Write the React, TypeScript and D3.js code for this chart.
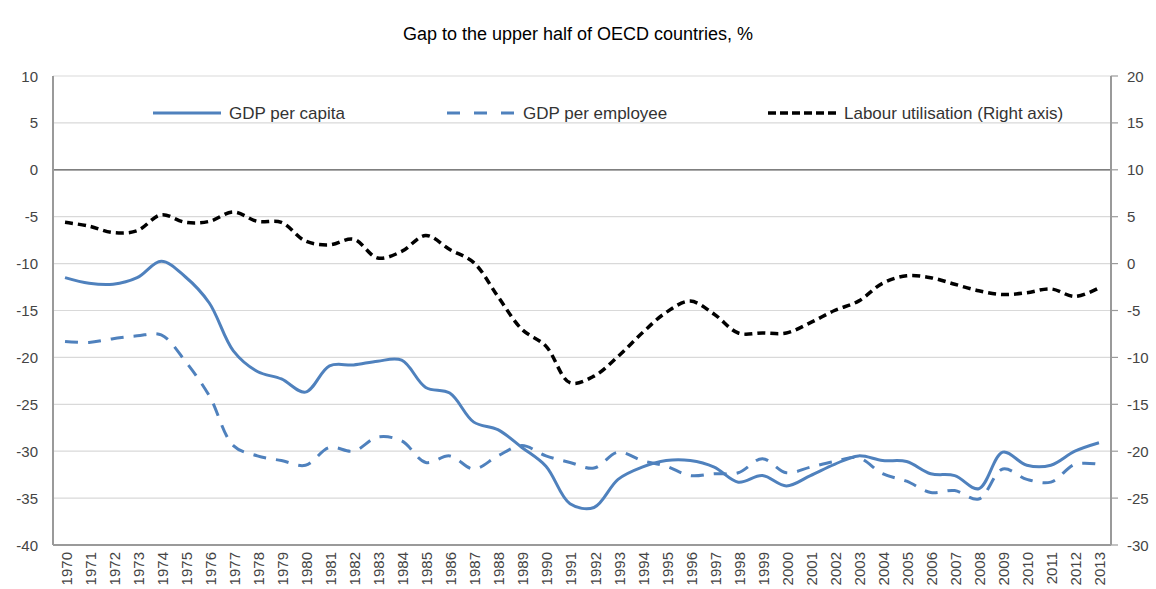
import { useEffect, useRef } from 'react'
import * as d3 from 'd3'

const years = d3.range(1970, 2014).map(String)

// left axis, %
const gdpPerCapita = [
    -11.5, -12.1, -12.2, -11.5, -9.75, -11.4, -14.2, -19.3, -21.5, -22.3, -23.7,
    -20.9, -20.8, -20.4, -20.3, -23.2, -23.8, -26.9, -27.7, -29.6, -31.6, -35.6,
    -36.0, -33.0, -31.7, -31.0, -31.0, -31.7, -33.3, -32.6, -33.7, -32.6, -31.4,
    -30.5, -31.0, -31.1, -32.4, -32.6, -34.0, -30.1, -31.5, -31.5, -30.0, -29.1,
]
const gdpPerEmployee = [
    -18.3, -18.4, -18.0, -17.7, -17.6, -20.4, -24.1, -29.4, -30.5, -31.0, -31.5,
    -29.6, -30.0, -28.5, -28.9, -31.2, -30.5, -31.9, -30.5, -29.4, -30.5, -31.2,
    -31.8, -30.1, -31.0, -31.6, -32.6, -32.4, -32.3, -30.8, -32.3, -31.7, -31.1,
    -30.7, -32.4, -33.2, -34.4, -34.2, -35.1, -31.9, -33.0, -33.3, -31.4, -31.4,
]
// right axis, %
const labourUtilisation = [
    4.4, 4.0, 3.3, 3.5, 5.2, 4.4, 4.5, 5.5, 4.5, 4.4, 2.4,
    2.0, 2.6, 0.6, 1.3, 3.0, 1.5, 0.1, -3.5, -7.0, -8.8, -12.7,
    -12.0, -9.9, -7.4, -5.2, -4.0, -5.4, -7.4, -7.4, -7.4, -6.3, -5.0,
    -4.0, -2.1, -1.3, -1.5, -2.2, -2.9, -3.3, -3.1, -2.7, -3.5, -2.6,
]

const leftTicks = [10, 5, 0, -5, -10, -15, -20, -25, -30, -35, -40]
const rightTicks = [20, 15, 10, 5, 0, -5, -10, -15, -20, -25, -30]

const title = 'Gap to the upper half of OECD countries, %'
const legendItems = ['GDP per capita', 'GDP per employee', 'Labour utilisation (Right axis)']

const App = () => {
    const ref = useRef<SVGSVGElement | null>(null)

    useEffect(() => {
        if (!ref.current) return
        const width = 1156
        const height = 589
        const m = { left: 53, right: 1111, top: 76, bottom: 545 }
        const blue = '#4f81bd'
        const font = '"Liberation Sans", Arial, sans-serif'

        const svg = d3.select(ref.current)
        svg.selectAll('*').remove()
        svg.attr('width', width).attr('height', height)

        const x = d3.scalePoint().domain(years).range([m.left, m.right]).padding(0.5)
        const yL = d3.scaleLinear().domain([-40, 10]).range([m.bottom, m.top])
        const yR = d3.scaleLinear().domain([-30, 20]).range([m.bottom, m.top])

        svg.append('text')
            .attr('x', 578)
            .attr('y', 40)
            .attr('text-anchor', 'middle')
            .attr('font-family', font)
            .attr('font-size', 18)
            .attr('fill', '#000')
            .text(title)

        // gridlines
        svg.append('g')
            .selectAll('line')
            .data(leftTicks.filter(d => d !== 0 && d !== -40))
            .join('line')
            .attr('x1', m.left).attr('x2', m.right)
            .attr('y1', d => yL(d)).attr('y2', d => yL(d))
            .attr('stroke', '#d9d9d9').attr('stroke-width', 1.2)

        svg.append('line')
            .attr('x1', m.left).attr('x2', m.right)
            .attr('y1', yL(0)).attr('y2', yL(0))
            .attr('stroke', '#555').attr('stroke-width', 1.2)

        // axes frame
        const axisColor = '#9a9a9a'
        svg.append('line')
            .attr('x1', m.left).attr('x2', m.left)
            .attr('y1', m.top).attr('y2', m.bottom)
            .attr('stroke', axisColor).attr('stroke-width', 2)
        svg.append('line')
            .attr('x1', m.right).attr('x2', m.right)
            .attr('y1', m.top).attr('y2', m.bottom)
            .attr('stroke', axisColor).attr('stroke-width', 2)
        svg.append('line')
            .attr('x1', m.left).attr('x2', m.right)
            .attr('y1', m.bottom).attr('y2', m.bottom)
            .attr('stroke', axisColor).attr('stroke-width', 2)

        svg.append('g')
            .selectAll('line')
            .data(rightTicks)
            .join('line')
            .attr('x1', m.right).attr('x2', m.right + 7)
            .attr('y1', d => yR(d)).attr('y2', d => yR(d))
            .attr('stroke', axisColor).attr('stroke-width', 1.2)

        const tickStyle = (s: d3.Selection<any, any, any, any>) =>
            s.attr('font-family', font).attr('font-size', 15).attr('fill', '#444')
                .attr('dominant-baseline', 'central')

        svg.append('g')
            .selectAll('text')
            .data(leftTicks)
            .join('text')
            .attr('x', 38)
            .attr('y', d => yL(d))
            .attr('text-anchor', 'end')
            .call(tickStyle)
            .text(d => d)

        svg.append('g')
            .selectAll('text')
            .data(rightTicks)
            .join('text')
            .attr('x', 1127)
            .attr('y', d => yR(d))
            .attr('text-anchor', 'start')
            .call(tickStyle)
            .text(d => d)

        svg.append('g')
            .selectAll('text')
            .data(years)
            .join('text')
            .attr('transform', d => `translate(${x(d)! + 1},${552}) rotate(-90)`)
            .attr('text-anchor', 'end')
            .call(tickStyle)
            .text(d => d)

        const curve = d3.curveCatmullRom.alpha(0.5)
        const lineL = d3.line<number>()
            .x((_, i) => x(years[i])!)
            .y(d => yL(d))
            .curve(curve)
        const lineR = d3.line<number>()
            .x((_, i) => x(years[i])!)
            .y(d => yR(d))
            .curve(curve)

        svg.append('path')
            .attr('d', lineR(labourUtilisation))
            .attr('fill', 'none')
            .attr('stroke', '#000')
            .attr('stroke-width', 3.5)
            .attr('stroke-dasharray', '8,5')

        svg.append('path')
            .attr('d', lineL(gdpPerEmployee))
            .attr('fill', 'none')
            .attr('stroke', blue)
            .attr('stroke-width', 3)
            .attr('stroke-dasharray', '13,10')

        svg.append('path')
            .attr('d', lineL(gdpPerCapita))
            .attr('fill', 'none')
            .attr('stroke', blue)
            .attr('stroke-width', 3)

        // legend
        const legendY = 113
        const legend = [
            { x: 153, color: blue, dash: null, w: 3 },
            { x: 447, color: blue, dash: '13,14', w: 3 },
            { x: 768, color: '#000', dash: '8,4', w: 3.5 },
        ]
        const lg = svg.append('g')
        legend.forEach((l, i) => {
            lg.append('line')
                .attr('x1', l.x).attr('x2', l.x + 68)
                .attr('y1', legendY).attr('y2', legendY)
                .attr('stroke', l.color)
                .attr('stroke-width', l.w)
                .attr('stroke-dasharray', l.dash)
            lg.append('text')
                .attr('x', l.x + 76)
                .attr('y', legendY)
                .attr('dominant-baseline', 'central')
                .attr('font-family', font)
                .attr('font-size', 17)
                .attr('fill', '#333')
                .text(legendItems[i])
        })
    }, [])

    return (
        <div>
            <svg ref={ref} style={{ position: 'absolute', left: 0, top: 0 }}></svg>
        </div>
    )
}

export default App
